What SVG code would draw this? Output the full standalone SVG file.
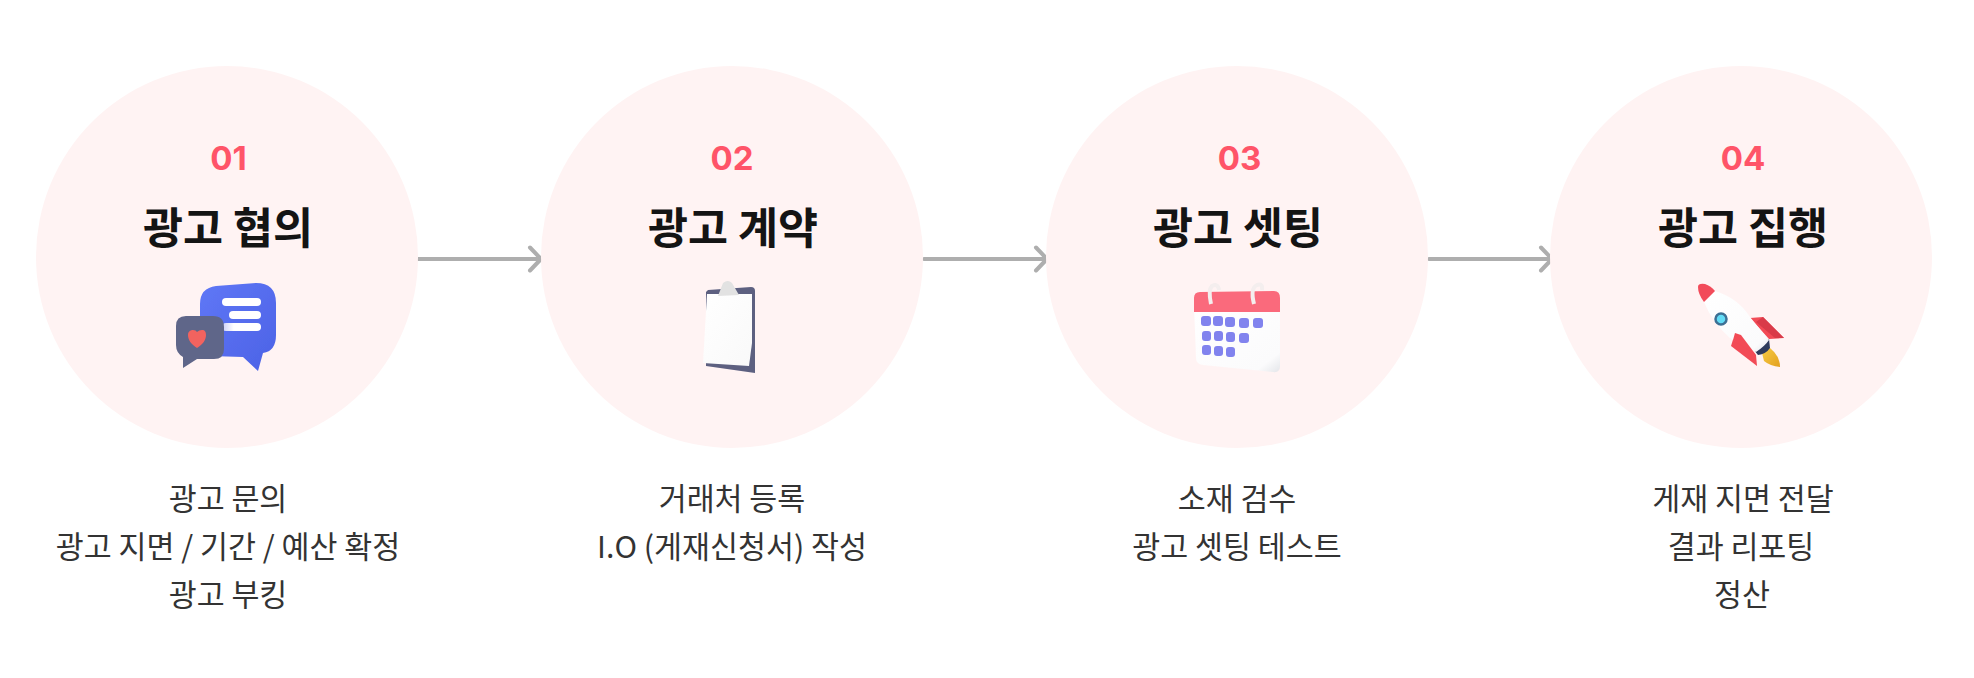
<svg xmlns="http://www.w3.org/2000/svg" width="1974" height="678" viewBox="0 0 1974 678">
<defs>
<style>
text{text-anchor:middle;font-family:"Noto Sans CJK KR","Noto Sans",sans-serif}
.bg{fill:#fff3f3}
.num{font-size:33px;font-weight:700;fill:#ff5468;font-family:"Inter","Noto Sans CJK KR",sans-serif}
.title{font-size:43.500px;font-weight:700;fill:#141414}
.body{font-size:30.400px;font-weight:400;fill:#333}
.conn{fill:none;stroke:#aeaeae;stroke-width:4;stroke-linecap:round;stroke-linejoin:round}
.icon{filter:url(#soft)}
</style>
<filter id="soft" x="-5%" y="-5%" width="110%" height="110%"><feGaussianBlur stdDeviation="0.500"/></filter>
<linearGradient id="blue" x1="0" y1="0" x2="1" y2="1"><stop offset="0" stop-color="#5f77f6"/><stop offset="1" stop-color="#4c62e6"/></linearGradient>
<linearGradient id="white" x1="0" y1="0" x2="1" y2="1"><stop offset="0" stop-color="#fff"/><stop offset="0.850" stop-color="#fbfbfc"/><stop offset="1" stop-color="#e4e6ea"/></linearGradient>
<linearGradient id="paper" x1="0" y1="0" x2="1" y2="1"><stop offset="0" stop-color="#fff"/><stop offset="1" stop-color="#f9f9f9"/></linearGradient>
<linearGradient id="fire" x1="0" y1="0" x2="1" y2="1"><stop offset="0" stop-color="#f7cc44"/><stop offset="1" stop-color="#e3a020"/></linearGradient>
<linearGradient id="bar" x1="0" y1="0" x2="1" y2="0"><stop offset="0" stop-color="#c9cdf5"/><stop offset="0.300" stop-color="#fff"/></linearGradient>
</defs>
<rect width="1974" height="678" fill="#fff"/>
<g id="connectors">
<path class="conn" d="M418 259H539M530 247.500L541 259L530 270.500"/>
<path class="conn" d="M924 259H1045M1036 247.500L1047 259L1036 270.500"/>
<path class="conn" d="M1429 259H1550M1541 247.500L1552 259L1541 270.500"/>
</g>
<g id="node-1">
<circle class="bg" cx="227" cy="257" r="191"/>
<text class="num" x="228.500" y="170">01</text>
<text class="title" x="228" y="244">광고 협의</text>
<g class="icon">
<path fill="url(#blue)" d="M216 286L256 283Q276 283 276 303V335Q276 351 263 353L258 371L243 357L210 356Q200 340 200 325V304Q200 288 216 286Z"/>
<rect x="222" y="298" width="39" height="8" rx="4" fill="#fff"/>
<rect x="229" y="311" width="32" height="8" rx="4" fill="#fff"/>
<rect x="222" y="323" width="39" height="8" rx="4" fill="url(#bar)"/>
<path fill="#5f6689" d="M186 316H213Q224 316 224 327V349Q224 359 214 359H197L183 368V357Q176 353 176 345V326Q176 316 186 316Z"/>
<path fill="#f2645f" d="M197 348C191 344 188 340 188 335C188 331 191 330 193 330Q196 330 197 332Q199 330 202 330C205 330 206 332 206 335C206 340 203 344 197 348Z"/>
</g>
<text class="body" x="228" y="510">광고 문의</text>
<text class="body" x="228" y="558">광고 지면 / 기간 / 예산 확정</text>
<text class="body" x="228" y="606">광고 부킹</text>
</g>
<g id="node-2">
<circle class="bg" cx="732" cy="257" r="191"/>
<text class="num" x="732" y="170">02</text>
<text class="title" x="733" y="244">광고 계약</text>
<g class="icon">
<path fill="#5d6080" d="M708 290L751 287Q755 287 755 291V373L706 366V292Z"/>
<path fill="url(#paper)" d="M707 294H752V343L749 366L703 363Z"/>
<path fill="#e2e2e2" d="M723 283Q728 279 732 283L739 295L718 296Z"/>
</g>
<text class="body" x="732" y="510">거래처 등록</text>
<text class="body" x="732" y="558">I.O (게재신청서) 작성</text>
</g>
<g id="node-3">
<circle class="bg" cx="1237" cy="257" r="191"/>
<text class="num" x="1239.500" y="170">03</text>
<text class="title" x="1238" y="244">광고 셋팅</text>
<g class="icon">
<path fill="url(#white)" d="M1194 305H1280V366Q1280 373 1273 372L1203 365Q1196 364 1196 358Z"/>
<path fill="#fa6b7c" d="M1200 292L1274 291Q1280 291 1280 298V312H1194V298Q1194 292 1200 292Z"/>
<path fill="none" stroke="#f4eeee" stroke-width="4" d="M1211 304Q1208 290 1212 286Q1218 283 1219 290M1254 304Q1250 288 1257 285Q1263 283 1262 290"/>
<g fill="#8183ee">
<rect x="1201" y="316" width="10" height="10" rx="3"/><rect x="1213" y="316" width="10" height="10" rx="3"/><rect x="1225" y="317" width="10" height="10" rx="3"/><rect x="1239" y="318" width="10" height="10" rx="3"/><rect x="1253" y="318" width="10" height="10" rx="3"/>
<rect x="1202" y="331" width="9" height="10" rx="3"/><rect x="1214" y="331" width="9" height="10" rx="3"/><rect x="1226" y="332" width="9" height="10" rx="3"/><rect x="1239" y="333" width="10" height="10" rx="3"/>
<rect x="1202" y="345" width="9" height="10" rx="3"/><rect x="1214" y="346" width="9" height="10" rx="3"/><rect x="1226" y="347" width="9" height="10" rx="3"/>
</g>
</g>
<text class="body" x="1237" y="510">소재 검수</text>
<text class="body" x="1237" y="558">광고 셋팅 테스트</text>
</g>
<g id="node-4">
<circle class="bg" cx="1741" cy="257" r="191"/>
<text class="num" x="1743" y="170">04</text>
<text class="title" x="1743" y="244">광고 집행</text>
<g class="icon">
<path fill="#f24b57" d="M1750 318L1763 317L1784 338L1769 339Z"/>
<path fill="#d93a48" d="M1756 322L1763 317L1784 338L1775 338Z"/>
<path fill="#f24b57" d="M1735 333L1731 346L1757 366L1756 355Z"/>
<path fill="url(#fire)" d="M1762 353L1770 348Q1780 356 1780 367Q1770 366 1764 361Z"/>
<path fill="#2f3a5c" d="M1754 350L1769 339L1770 348Q1766 354 1758 355Z"/>
<path fill="url(#white)" d="M1704 302L1715 291Q1738 298 1750 317L1769 340Q1765 346 1756 352L1730 338Q1712 322 1704 302Z"/>
<path fill="#f24b5a" d="M1698 287Q1698 283 1705 284Q1711 286 1715 291L1704 302Q1698 294 1698 287Z"/>
<path fill="#f24b57" d="M1735 333L1741 335L1756 355L1748 350L1733 340Z"/>
<circle cx="1721" cy="319" r="5.500" fill="#62dcf6" stroke="#3e6f94" stroke-width="2.500"/>
</g>
<text class="body" x="1743" y="510">게재 지면 전달</text>
<text class="body" x="1741" y="558">결과 리포팅</text>
<text class="body" x="1742" y="606">정산</text>
</g>
</svg>
